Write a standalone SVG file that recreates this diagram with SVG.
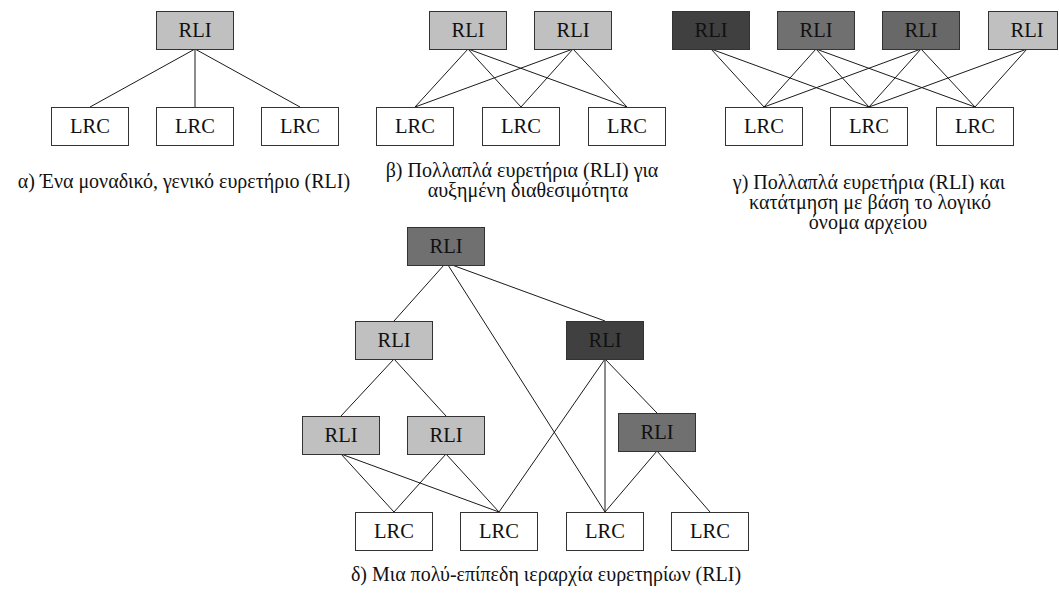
<svg xmlns="http://www.w3.org/2000/svg" width="1059" height="595" viewBox="0 0 1059 595">
  <style>
    .box { stroke: #333333; stroke-width: 1; }
    .lrc { fill: #ffffff; }
    .light { fill: #c0c0c0; }
    .mid { fill: #707070; }
    .mid2 { fill: #686868; }
    .dark { fill: #404040; }
    text { font-family: 'Liberation Serif', 'DejaVu Serif', serif; fill: #111111; text-anchor: middle; }
    .lbl { font-size: 20.5px; }
    .cap { font-size: 20px; }
    .links line { stroke: #1a1a1a; stroke-width: 1; }
  </style>
  <rect width="1059" height="595" fill="#ffffff"/>

  <!-- connectors -->
  <g class="links" id="connectors">
    <!-- (a) single index -->
    <line x1="195" y1="49" x2="90" y2="107"/>
    <line x1="195" y1="49" x2="195" y2="107"/>
    <line x1="195" y1="49" x2="300" y2="107"/>
    <!-- (b) replicated indexes -->
    <line x1="468" y1="49" x2="415" y2="107"/>
    <line x1="468" y1="49" x2="521" y2="107"/>
    <line x1="468" y1="49" x2="627" y2="107"/>
    <line x1="573" y1="49" x2="415" y2="107"/>
    <line x1="573" y1="49" x2="521" y2="107"/>
    <line x1="573" y1="49" x2="627" y2="107"/>
    <!-- (c) partitioned indexes -->
    <line x1="711" y1="49" x2="764" y2="107"/>
    <line x1="711" y1="49" x2="869" y2="107"/>
    <line x1="816" y1="49" x2="764" y2="107"/>
    <line x1="816" y1="49" x2="869" y2="107"/>
    <line x1="816" y1="49" x2="975" y2="107"/>
    <line x1="921" y1="49" x2="764" y2="107"/>
    <line x1="921" y1="49" x2="869" y2="107"/>
    <line x1="921" y1="49" x2="975" y2="107"/>
    <line x1="1027" y1="49" x2="869" y2="107"/>
    <line x1="1027" y1="49" x2="975" y2="107"/>
    <!-- (d) hierarchy -->
    <line x1="444" y1="265" x2="394" y2="321"/>
    <line x1="448" y1="265" x2="605" y2="512"/>
    <line x1="452" y1="265" x2="605" y2="321"/>
    <line x1="394" y1="359" x2="341" y2="416"/>
    <line x1="394" y1="359" x2="446" y2="416"/>
    <line x1="605" y1="359" x2="499" y2="512"/>
    <line x1="605" y1="359" x2="605" y2="512"/>
    <line x1="605" y1="359" x2="657" y2="413"/>
    <line x1="341" y1="454" x2="394" y2="512"/>
    <line x1="341" y1="454" x2="499" y2="512"/>
    <line x1="446" y1="454" x2="394" y2="512"/>
    <line x1="446" y1="454" x2="499" y2="512"/>
    <line x1="657" y1="451" x2="605" y2="512"/>
    <line x1="657" y1="451" x2="710" y2="512"/>
  </g>

  <!-- (a) -->
  <g id="a-rli"><rect class="box light" x="156.5" y="11.5" width="77" height="38"/><text class="lbl" x="195" y="37">RLI</text></g>
  <g id="a-lrc1"><rect class="box lrc" x="51.5" y="107.5" width="77" height="38"/><text class="lbl" x="90" y="133">LRC</text></g>
  <g id="a-lrc2"><rect class="box lrc" x="156.5" y="107.5" width="77" height="38"/><text class="lbl" x="195" y="133">LRC</text></g>
  <g id="a-lrc3"><rect class="box lrc" x="261.5" y="107.5" width="77" height="38"/><text class="lbl" x="300" y="133">LRC</text></g>
  <text class="cap" x="184" y="188">α) Ένα μοναδικό, γενικό ευρετήριο (RLI)</text>

  <!-- (b) -->
  <g id="b-rli1"><rect class="box light" x="429.5" y="11.5" width="77" height="38"/><text class="lbl" x="468" y="37">RLI</text></g>
  <g id="b-rli2"><rect class="box light" x="534.5" y="11.5" width="77" height="38"/><text class="lbl" x="573" y="37">RLI</text></g>
  <g id="b-lrc1"><rect class="box lrc" x="376.5" y="107.5" width="77" height="38"/><text class="lbl" x="415" y="133">LRC</text></g>
  <g id="b-lrc2"><rect class="box lrc" x="482.5" y="107.5" width="77" height="38"/><text class="lbl" x="521" y="133">LRC</text></g>
  <g id="b-lrc3"><rect class="box lrc" x="588.5" y="107.5" width="77" height="38"/><text class="lbl" x="627" y="133">LRC</text></g>
  <text class="cap" x="522" y="177">β) Πολλαπλά ευρετήρια (RLI) για</text>
  <text class="cap" x="528" y="197">αυξημένη διαθεσιμότητα</text>

  <!-- (c) -->
  <g id="c-rli1"><rect class="box dark" x="672.5" y="11.5" width="77" height="38"/><text class="lbl" x="711" y="37">RLI</text></g>
  <g id="c-rli2"><rect class="box mid" x="777.5" y="11.5" width="77" height="38"/><text class="lbl" x="816" y="37">RLI</text></g>
  <g id="c-rli3"><rect class="box mid2" x="882.5" y="11.5" width="77" height="38"/><text class="lbl" x="921" y="37">RLI</text></g>
  <g id="c-rli4"><rect class="box light" x="988.5" y="11.5" width="69" height="38"/><text class="lbl" x="1027" y="37">RLI</text></g>
  <g id="c-lrc1"><rect class="box lrc" x="725.5" y="107.5" width="77" height="38"/><text class="lbl" x="764" y="133">LRC</text></g>
  <g id="c-lrc2"><rect class="box lrc" x="830.5" y="107.5" width="77" height="38"/><text class="lbl" x="869" y="133">LRC</text></g>
  <g id="c-lrc3"><rect class="box lrc" x="936.5" y="107.5" width="77" height="38"/><text class="lbl" x="975" y="133">LRC</text></g>
  <text class="cap" x="869" y="189">γ) Πολλαπλά ευρετήρια (RLI) και</text>
  <text class="cap" x="870" y="209">κατάτμηση με βάση το λογικό</text>
  <text class="cap" x="868" y="229">όνομα αρχείου</text>

  <!-- (d) -->
  <g id="d-rli-top"><rect class="box mid" x="407.5" y="227.5" width="77" height="38"/><text class="lbl" x="446" y="253">RLI</text></g>
  <g id="d-rli-l2a"><rect class="box light" x="355.5" y="321.5" width="77" height="38"/><text class="lbl" x="394" y="347">RLI</text></g>
  <g id="d-rli-l2b"><rect class="box dark" x="566.5" y="321.5" width="77" height="38"/><text class="lbl" x="605" y="347">RLI</text></g>
  <g id="d-rli-l3a"><rect class="box light" x="302.5" y="416.5" width="77" height="38"/><text class="lbl" x="341" y="442">RLI</text></g>
  <g id="d-rli-l3b"><rect class="box light" x="407.5" y="416.5" width="77" height="38"/><text class="lbl" x="446" y="442">RLI</text></g>
  <g id="d-rli-l3c"><rect class="box mid" x="618.5" y="413.5" width="77" height="38"/><text class="lbl" x="657" y="439">RLI</text></g>
  <g id="d-lrc1"><rect class="box lrc" x="355.5" y="512.5" width="77" height="38"/><text class="lbl" x="394" y="538">LRC</text></g>
  <g id="d-lrc2"><rect class="box lrc" x="460.5" y="512.5" width="77" height="38"/><text class="lbl" x="499" y="538">LRC</text></g>
  <g id="d-lrc3"><rect class="box lrc" x="566.5" y="512.5" width="77" height="38"/><text class="lbl" x="605" y="538">LRC</text></g>
  <g id="d-lrc4"><rect class="box lrc" x="671.5" y="512.5" width="77" height="38"/><text class="lbl" x="710" y="538">LRC</text></g>
  <text class="cap" x="546" y="581">δ) Μια πολύ-επίπεδη ιεραρχία ευρετηρίων (RLI)</text>
</svg>
